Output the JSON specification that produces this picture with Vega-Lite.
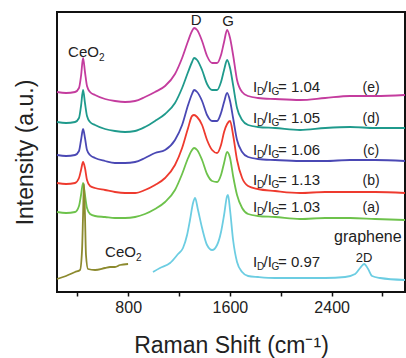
{
  "$schema": "https://vega.github.io/schema/vega-lite/v6.json",
  "width": 348,
  "height": 280,
  "autosize": {"type": "none"},
  "padding": {"left": 57, "top": 12, "right": 1, "bottom": 66},
  "background": "white",
  "config": {
    "font": "Liberation Sans",
    "view": {"stroke": "#111", "strokeWidth": 2},
    "axis": {"grid": false}
  },
  "datasets": {
    "curves": [
      {"s":"e","x":240,"y":200},{"s":"e","x":311,"y":199},{"s":"e","x":382,"y":200},{"s":"e","x":413,"y":204},{"s":"e","x":429,"y":216},{"s":"e","x":445,"y":234},{"s":"e","x":460,"y":220},{"s":"e","x":476,"y":206},{"s":"e","x":500,"y":200},{"s":"e","x":539,"y":197},{"s":"e","x":618,"y":193},{"s":"e","x":696,"y":191},{"s":"e","x":775,"y":190},{"s":"e","x":854,"y":191},{"s":"e","x":932,"y":195},{"s":"e","x":1011,"y":200},{"s":"e","x":1090,"y":206},{"s":"e","x":1168,"y":218},{"s":"e","x":1224,"y":234},{"s":"e","x":1271,"y":251},{"s":"e","x":1302,"y":261},{"s":"e","x":1318,"y":264},{"s":"e","x":1342,"y":262},{"s":"e","x":1381,"y":251},{"s":"e","x":1420,"y":236},{"s":"e","x":1460,"y":229},{"s":"e","x":1499,"y":229},{"s":"e","x":1530,"y":237},{"s":"e","x":1554,"y":250},{"s":"e","x":1578,"y":262},{"s":"e","x":1601,"y":254},{"s":"e","x":1625,"y":237},{"s":"e","x":1656,"y":212},{"s":"e","x":1696,"y":200},{"s":"e","x":1743,"y":196},{"s":"e","x":1821,"y":194},{"s":"e","x":1955,"y":193},{"s":"e","x":2152,"y":192},{"s":"e","x":2349,"y":194},{"s":"e","x":2545,"y":196},{"s":"e","x":2742,"y":196},{"s":"e","x":2977,"y":197},

      {"s":"d","x":240,"y":170},{"s":"d","x":311,"y":169},{"s":"d","x":382,"y":170},{"s":"d","x":413,"y":174},{"s":"d","x":429,"y":186},{"s":"d","x":445,"y":202},{"s":"d","x":460,"y":189},{"s":"d","x":476,"y":176},{"s":"d","x":500,"y":170},{"s":"d","x":539,"y":167},{"s":"d","x":618,"y":163},{"s":"d","x":696,"y":161},{"s":"d","x":775,"y":160},{"s":"d","x":854,"y":161},{"s":"d","x":932,"y":165},{"s":"d","x":1011,"y":171},{"s":"d","x":1090,"y":178},{"s":"d","x":1168,"y":189},{"s":"d","x":1224,"y":204},{"s":"d","x":1271,"y":220},{"s":"d","x":1302,"y":230},{"s":"d","x":1318,"y":234},{"s":"d","x":1342,"y":232},{"s":"d","x":1381,"y":222},{"s":"d","x":1420,"y":208},{"s":"d","x":1460,"y":202},{"s":"d","x":1499,"y":202},{"s":"d","x":1530,"y":210},{"s":"d","x":1554,"y":222},{"s":"d","x":1578,"y":232},{"s":"d","x":1601,"y":224},{"s":"d","x":1625,"y":207},{"s":"d","x":1656,"y":184},{"s":"d","x":1696,"y":172},{"s":"d","x":1743,"y":167},{"s":"d","x":1821,"y":165},{"s":"d","x":1955,"y":164},{"s":"d","x":2152,"y":162},{"s":"d","x":2349,"y":164},{"s":"d","x":2545,"y":165},{"s":"d","x":2742,"y":164},{"s":"d","x":2977,"y":164},

      {"s":"c","x":240,"y":137},{"s":"c","x":311,"y":136},{"s":"c","x":382,"y":137},{"s":"c","x":413,"y":141},{"s":"c","x":429,"y":152},{"s":"c","x":445,"y":163},{"s":"c","x":460,"y":154},{"s":"c","x":476,"y":142},{"s":"c","x":500,"y":137},{"s":"c","x":539,"y":134},{"s":"c","x":618,"y":131},{"s":"c","x":696,"y":129},{"s":"c","x":775,"y":129},{"s":"c","x":854,"y":130},{"s":"c","x":932,"y":134},{"s":"c","x":1011,"y":139},{"s":"c","x":1090,"y":142},{"s":"c","x":1168,"y":152},{"s":"c","x":1224,"y":167},{"s":"c","x":1271,"y":187},{"s":"c","x":1302,"y":198},{"s":"c","x":1318,"y":202},{"s":"c","x":1342,"y":200},{"s":"c","x":1381,"y":191},{"s":"c","x":1420,"y":177},{"s":"c","x":1460,"y":171},{"s":"c","x":1499,"y":171},{"s":"c","x":1530,"y":179},{"s":"c","x":1554,"y":190},{"s":"c","x":1578,"y":199},{"s":"c","x":1601,"y":191},{"s":"c","x":1625,"y":174},{"s":"c","x":1656,"y":152},{"s":"c","x":1696,"y":140},{"s":"c","x":1743,"y":135},{"s":"c","x":1821,"y":133},{"s":"c","x":1955,"y":132},{"s":"c","x":2152,"y":131},{"s":"c","x":2349,"y":131},{"s":"c","x":2545,"y":132},{"s":"c","x":2742,"y":132},{"s":"c","x":2977,"y":131},

      {"s":"b","x":240,"y":109},{"s":"b","x":311,"y":108},{"s":"b","x":382,"y":109},{"s":"b","x":413,"y":114},{"s":"b","x":429,"y":122},{"s":"b","x":445,"y":130},{"s":"b","x":460,"y":124},{"s":"b","x":476,"y":112},{"s":"b","x":500,"y":106},{"s":"b","x":539,"y":104},{"s":"b","x":618,"y":102},{"s":"b","x":696,"y":100},{"s":"b","x":775,"y":99},{"s":"b","x":854,"y":99},{"s":"b","x":932,"y":102},{"s":"b","x":1011,"y":107},{"s":"b","x":1090,"y":114},{"s":"b","x":1168,"y":127},{"s":"b","x":1224,"y":144},{"s":"b","x":1271,"y":164},{"s":"b","x":1302,"y":176},{"s":"b","x":1318,"y":177},{"s":"b","x":1342,"y":175},{"s":"b","x":1381,"y":167},{"s":"b","x":1420,"y":152},{"s":"b","x":1460,"y":142},{"s":"b","x":1499,"y":139},{"s":"b","x":1530,"y":147},{"s":"b","x":1554,"y":160},{"s":"b","x":1578,"y":168},{"s":"b","x":1601,"y":171},{"s":"b","x":1625,"y":157},{"s":"b","x":1656,"y":132},{"s":"b","x":1696,"y":114},{"s":"b","x":1743,"y":106},{"s":"b","x":1821,"y":103},{"s":"b","x":1955,"y":101},{"s":"b","x":2152,"y":99},{"s":"b","x":2349,"y":100},{"s":"b","x":2545,"y":100},{"s":"b","x":2742,"y":100},{"s":"b","x":2977,"y":99},

      {"s":"a","x":240,"y":80},{"s":"a","x":311,"y":79},{"s":"a","x":382,"y":80},{"s":"a","x":413,"y":86},{"s":"a","x":429,"y":97},{"s":"a","x":445,"y":109},{"s":"a","x":460,"y":97},{"s":"a","x":476,"y":84},{"s":"a","x":500,"y":78},{"s":"a","x":539,"y":76},{"s":"a","x":618,"y":75},{"s":"a","x":696,"y":74},{"s":"a","x":775,"y":74},{"s":"a","x":854,"y":75},{"s":"a","x":932,"y":78},{"s":"a","x":1011,"y":83},{"s":"a","x":1090,"y":90},{"s":"a","x":1168,"y":102},{"s":"a","x":1224,"y":118},{"s":"a","x":1271,"y":134},{"s":"a","x":1302,"y":142},{"s":"a","x":1318,"y":144},{"s":"a","x":1342,"y":142},{"s":"a","x":1381,"y":132},{"s":"a","x":1420,"y":118},{"s":"a","x":1460,"y":111},{"s":"a","x":1499,"y":110},{"s":"a","x":1530,"y":117},{"s":"a","x":1554,"y":129},{"s":"a","x":1578,"y":140},{"s":"a","x":1601,"y":134},{"s":"a","x":1625,"y":116},{"s":"a","x":1656,"y":97},{"s":"a","x":1696,"y":84},{"s":"a","x":1743,"y":78},{"s":"a","x":1821,"y":76},{"s":"a","x":1955,"y":75},{"s":"a","x":2152,"y":73},{"s":"a","x":2349,"y":74},{"s":"a","x":2545,"y":74},{"s":"a","x":2742,"y":73},{"s":"a","x":2977,"y":72},

      {"s":"g","x":995,"y":20},{"s":"g","x":1050,"y":24},{"s":"g","x":1129,"y":29},{"s":"g","x":1192,"y":38},{"s":"g","x":1231,"y":44},{"s":"g","x":1263,"y":57},{"s":"g","x":1286,"y":72},{"s":"g","x":1310,"y":89},{"s":"g","x":1326,"y":94},{"s":"g","x":1349,"y":82},{"s":"g","x":1381,"y":64},{"s":"g","x":1420,"y":47},{"s":"g","x":1460,"y":42},{"s":"g","x":1499,"y":47},{"s":"g","x":1530,"y":60},{"s":"g","x":1554,"y":77},{"s":"g","x":1578,"y":96},{"s":"g","x":1585,"y":97},{"s":"g","x":1601,"y":82},{"s":"g","x":1625,"y":52},{"s":"g","x":1656,"y":30},{"s":"g","x":1696,"y":20},{"s":"g","x":1743,"y":16},{"s":"g","x":1821,"y":15},{"s":"g","x":1955,"y":14},{"s":"g","x":2152,"y":14},{"s":"g","x":2349,"y":14},{"s":"g","x":2506,"y":15},{"s":"g","x":2585,"y":18},{"s":"g","x":2624,"y":24},{"s":"g","x":2656,"y":28},{"s":"g","x":2687,"y":23},{"s":"g","x":2718,"y":16},{"s":"g","x":2781,"y":14},{"s":"g","x":2977,"y":12},

      {"s":"o","x":240,"y":13},{"s":"o","x":311,"y":16},{"s":"o","x":382,"y":20},{"s":"o","x":421,"y":22},{"s":"o","x":437,"y":42},{"s":"o","x":445,"y":77},{"s":"o","x":452,"y":108},{"s":"o","x":460,"y":77},{"s":"o","x":468,"y":37},{"s":"o","x":484,"y":23},{"s":"o","x":539,"y":22},{"s":"o","x":618,"y":24},{"s":"o","x":657,"y":25},{"s":"o","x":696,"y":25},{"s":"o","x":736,"y":27},{"s":"o","x":799,"y":28}
    ],
    "ratios": [
      {"x":1782,"lx":2710,"y":200,"r":"= 1.04","l":"(e)"},
      {"x":1782,"lx":2710,"y":169,"r":"= 1.05","l":"(d)"},
      {"x":1782,"lx":2710,"y":137,"r":"= 1.06","l":"(c)"},
      {"x":1782,"lx":2710,"y":107,"r":"= 1.13","l":"(b)"},
      {"x":1782,"lx":2710,"y":80,"r":"= 1.03","l":"(a)"},
      {"x":1782,"lx":2710,"y":25,"r":"= 0.97","l":""}
    ],
    "ceo": [
      {"x":327,"y":235,"t":"CeO"},
      {"x":618,"y":35,"t":"CeO"}
    ],
    "peaks": [
      {"x":1334,"y":267,"t":"D"},
      {"x":1585,"y":266,"t":"G"}
    ]
  },
  "layer": [
    {
      "data": {"name": "curves"},
      "mark": {"type": "line", "strokeWidth": 1.8, "interpolate": "monotone"},
      "encoding": {
        "x": {"field": "x", "type": "quantitative",
              "scale": {"domain": [240, 2977], "nice": false, "zero": false},
              "axis": {"title": "Raman Shift (cm⁻¹)", "values": [400, 800, 1200, 1600, 2000, 2400, 2800],
                       "format": "d", "labelExpr": "datum.value % 800 == 0 ? datum.label : ''",
                       "domain": false, "tickSize": 4, "tickColor": "#111", "tickWidth": 1.5,
                       "labelFontSize": 16, "labelColor": "#222", "labelPadding": 3,
                       "titleFontSize": 23, "titleFontWeight": "normal", "titleColor": "#222", "titlePadding": 19}},
        "y": {"field": "y", "type": "quantitative",
              "scale": {"domain": [0, 280], "nice": false, "zero": false},
              "axis": {"title": "Intensity (a.u.)", "labels": false, "ticks": false, "domain": false,
                       "titleFontSize": 23, "titleFontWeight": "normal", "titleColor": "#222", "titlePadding": 20}},
        "color": {"field": "s", "type": "nominal", "legend": null,
                  "scale": {"domain": ["e", "d", "c", "b", "a", "g", "o"],
                            "range": ["#c43c9e", "#1f9a8c", "#4a48b4", "#ee3a2e", "#6dc24b", "#6ccde2", "#8c8a2e"]}}
      }
    },
    {
      "data": {"name": "ratios"},
      "mark": {"type": "text", "align": "left", "baseline": "alphabetic", "fontSize": 15, "color": "#222"},
      "encoding": {"x": {"field": "x", "type": "quantitative"}, "y": {"field": "y", "type": "quantitative"}, "text": {"value": "I"}}
    },
    {
      "data": {"name": "ratios"},
      "mark": {"type": "text", "align": "left", "baseline": "alphabetic", "fontSize": 10, "dx": 4, "dy": 3, "color": "#222"},
      "encoding": {"x": {"field": "x", "type": "quantitative"}, "y": {"field": "y", "type": "quantitative"}, "text": {"value": "D"}}
    },
    {
      "data": {"name": "ratios"},
      "mark": {"type": "text", "align": "left", "baseline": "alphabetic", "fontSize": 15, "dx": 10.5, "color": "#222"},
      "encoding": {"x": {"field": "x", "type": "quantitative"}, "y": {"field": "y", "type": "quantitative"}, "text": {"value": "/I"}}
    },
    {
      "data": {"name": "ratios"},
      "mark": {"type": "text", "align": "left", "baseline": "alphabetic", "fontSize": 10, "dx": 18.5, "dy": 3, "color": "#222"},
      "encoding": {"x": {"field": "x", "type": "quantitative"}, "y": {"field": "y", "type": "quantitative"}, "text": {"value": "G"}}
    },
    {
      "data": {"name": "ratios"},
      "mark": {"type": "text", "align": "left", "baseline": "alphabetic", "fontSize": 15, "dx": 25, "color": "#222"},
      "encoding": {"x": {"field": "x", "type": "quantitative"}, "y": {"field": "y", "type": "quantitative"}, "text": {"field": "r"}}
    },
    {
      "data": {"name": "ratios"},
      "mark": {"type": "text", "align": "center", "baseline": "alphabetic", "fontSize": 14, "color": "#222"},
      "encoding": {"x": {"field": "lx", "type": "quantitative"}, "y": {"field": "y", "type": "quantitative"}, "text": {"field": "l"}}
    },
    {
      "data": {"name": "ceo"},
      "mark": {"type": "text", "align": "left", "baseline": "alphabetic", "fontSize": 15, "color": "#222"},
      "encoding": {"x": {"field": "x", "type": "quantitative"}, "y": {"field": "y", "type": "quantitative"}, "text": {"field": "t"}}
    },
    {
      "data": {"name": "ceo"},
      "mark": {"type": "text", "align": "left", "baseline": "alphabetic", "fontSize": 10, "dx": 31, "dy": 4, "color": "#222"},
      "encoding": {"x": {"field": "x", "type": "quantitative"}, "y": {"field": "y", "type": "quantitative"}, "text": {"value": "2"}}
    },
    {
      "data": {"name": "peaks"},
      "mark": {"type": "text", "align": "center", "baseline": "alphabetic", "fontSize": 15, "color": "#222"},
      "encoding": {"x": {"field": "x", "type": "quantitative"}, "y": {"field": "y", "type": "quantitative"}, "text": {"field": "t"}}
    },
    {
      "data": {"values": [{"x": 2419, "y": 50, "t": "graphene"}]},
      "mark": {"type": "text", "align": "left", "baseline": "alphabetic", "fontSize": 16, "color": "#222"},
      "encoding": {"x": {"field": "x", "type": "quantitative"}, "y": {"field": "y", "type": "quantitative"}, "text": {"field": "t"}}
    },
    {
      "data": {"values": [{"x": 2655, "y": 30, "t": "2D"}]},
      "mark": {"type": "text", "align": "center", "baseline": "alphabetic", "fontSize": 13, "color": "#222"},
      "encoding": {"x": {"field": "x", "type": "quantitative"}, "y": {"field": "y", "type": "quantitative"}, "text": {"field": "t"}}
    }
  ]
}
